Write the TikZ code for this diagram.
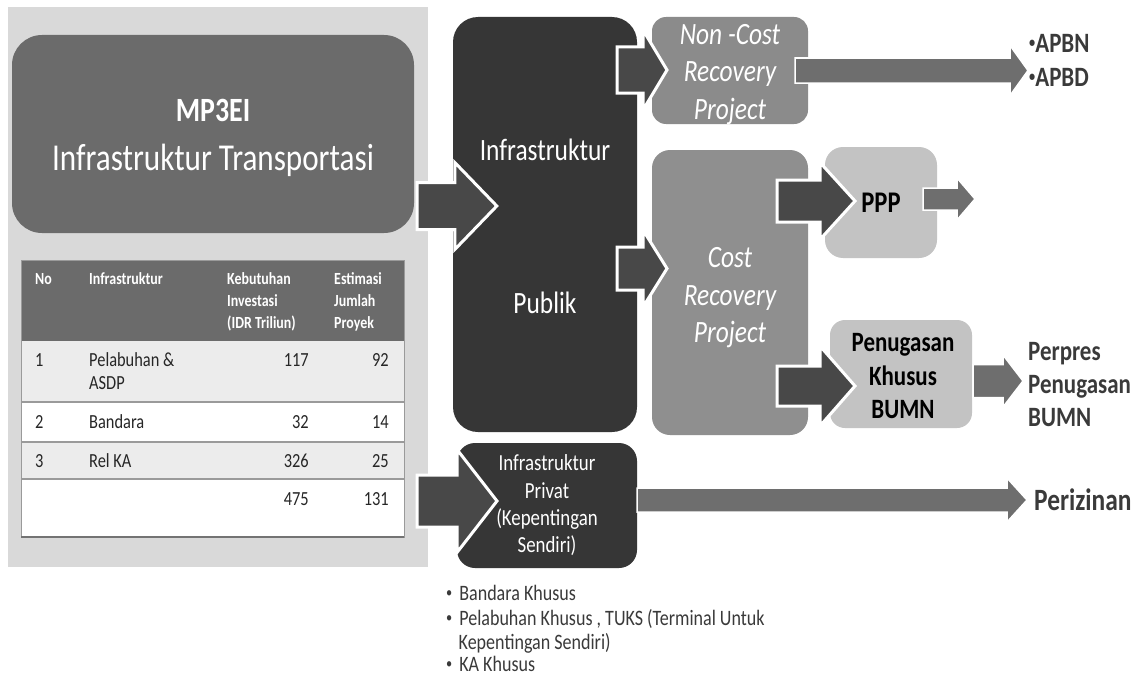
\documentclass[tikz,border=0pt]{standalone}
\usepackage{fontspec}
\setmainfont{Carlito}[FakeStretch=0.82]
\usetikzlibrary{calc}
\definecolor{panel}{HTML}{D9D9D9}
\definecolor{mpgray}{HTML}{6B6B6B}
\definecolor{darkbox}{HTML}{363636}
\definecolor{midbox}{HTML}{8B8B8B}
\definecolor{costbox}{HTML}{8F8F8F}
\definecolor{lightbox}{HTML}{C3C3C3}
\definecolor{arrdark}{HTML}{484848}
\definecolor{arrmid}{HTML}{6E6E6E}
\definecolor{txtdark}{HTML}{3A3A3A}
\definecolor{rowgray}{HTML}{ECECEC}
\definecolor{tline}{HTML}{9A9A9A}
\newcommand\fs[2]{\fontsize{#1}{#2}\selectfont}
\newcommand\smbul[1]{\raisebox{#1}{\fontsize{15}{15}\selectfont •}}
\newcommand\blockarr[6][]{\path[#1] let \p1=(#2), \p2=(#3) in
  (\x1,\y2-#4) -- (\x2-#6,\y2-#4) -- (\x2-#6,\y2-#5) -- (\x2,\y2) --
  (\x2-#6,\y2+#5) -- (\x2-#6,\y2+#4) -- (\x1,\y2+#4) -- cycle;}
\tikzset{
  box/.style={inner sep=0pt, align=center},
  darkarr/.style={fill=arrdark, draw=white, line width=3pt, line join=miter},
  midarr/.style={fill=arrmid, draw=white, line width=1.5pt, line join=miter},
  hdr/.style={anchor=base west, text=white, font=\bfseries\fs{17}{22}, inner sep=0pt},
  cell/.style={anchor=base west, text=black!85, font=\fs{20}{23}, inner sep=0pt},
  num/.style={anchor=base east, text=black!85, font=\fs{20}{23}, inner sep=0pt},
  bul/.style={anchor=base west, text=txtdark, font=\fs{22}{24}, inner sep=0pt},
}
\begin{document}
\begin{tikzpicture}[x=1pt,y=-1pt]
\useasboundingbox (0,0) rectangle (1139,677);
\fill[white] (0,0) rectangle (1139,677);
% left panel
\node[box, fill=panel, minimum width=420pt, minimum height=560pt] (panel) at (218,287) {};
\node[box, fill=mpgray, minimum width=402pt, minimum height=198pt, rounded corners=30pt] (mp) at (213,134) {};
\node[box, text=white, font=\fs{38}{49}] (mptxt) at ($(mp.center)+(0,4)$)
  {{\bfseries\fs{34}{49}MP3EI}\\Infrastruktur Transportasi};
% table
\fill[mpgray] (21,260) rectangle (404,341);
\fill[rowgray] (21,341) rectangle (404,402);
\fill[white] (21,402) rectangle (404,442);
\fill[rowgray] (21,442) rectangle (404,479);
\fill[white] (21,479) rectangle (404,537);
\draw[tline, line width=1.2pt] (21,402) -- (404,402) (21,442) -- (404,442) (21,479) -- (404,479);
\draw[tline, line width=0.8pt] (21,260) rectangle (404,537);
\draw[black!55, line width=1.2pt] (21,537) -- (404,537);
\node[hdr] (h1) at (35,284.5) {No};
\node[hdr] (h2) at (89,284.5) {Infrastruktur};
\node[hdr] (h3a) at (227,284.5) {Kebutuhan};
\node[hdr] (h3b) at (227,306.5) {Investasi};
\node[hdr] (h3c) at (227,328.5) {(IDR Triliun)};
\node[hdr] (h4a) at (334,284.5) {Estimasi};
\node[hdr] (h4b) at (334,306.5) {Jumlah};
\node[hdr] (h4c) at (334,328.5) {Proyek};
\node[cell] (r1a) at (35,366) {1};
\node[cell] (r1b) at (89,366) {Pelabuhan \&};
\node[cell] (r1c) at (89,389) {ASDP};
\node[num] (r1d) at (309,366) {117};
\node[num] (r1e) at (389,366) {92};
\node[cell] (r2a) at (35,428) {2};
\node[cell] (r2b) at (89,428) {Bandara};
\node[num] (r2d) at (309,428) {32};
\node[num] (r2e) at (389,428) {14};
\node[cell] (r3a) at (35,467) {3};
\node[cell] (r3b) at (89,467) {Rel KA};
\node[num] (r3d) at (309,467) {326};
\node[num] (r3e) at (389,467) {25};
\node[num] (r4d) at (309,505) {475};
\node[num] (r4e) at (389,505) {131};
% boxes
\node[box, fill=darkbox, minimum width=184pt, minimum height=415pt, rounded corners=25pt] (pub) at (545,224.5) {};
\node[box, fill=midbox, minimum width=156pt, minimum height=107pt, rounded corners=14pt] (ncr) at (730,70.5) {};
\node[box, fill=costbox, minimum width=156pt, minimum height=285pt, rounded corners=18pt] (cr) at (730,292.5) {};
\node[box, fill=lightbox, minimum width=112pt, minimum height=111pt, rounded corners=18pt] (ppp) at (881,202.5) {};
\node[box, fill=lightbox, minimum width=142pt, minimum height=108pt, rounded corners=15pt] (pkb) at (901,374) {};
\node[box, fill=darkbox, minimum width=180pt, minimum height=125pt, rounded corners=18pt] (priv) at (547,505.5) {};
% arrow end points
\coordinate (a1s) at ($(mp.east)+(3,72)$);   \coordinate (a1t) at ($(pub.west)+(44,-18.5)$);
\coordinate (a2s) at (617,70);   \coordinate (a2t) at (667,70);
\coordinate (a3s) at (617,268.5); \coordinate (a3t) at (667,268.5);
\coordinate (a4s) at (795,70.5); \coordinate (a4t) at (1028,70.5);
\coordinate (a5s) at (777,201);  \coordinate (a5t) at (855,201);
\coordinate (a6s) at (923,199);  \coordinate (a6t) at (975,199);
\coordinate (a7s) at (777,386);  \coordinate (a7t) at (855,386);
\coordinate (a8s) at (973,381);  \coordinate (a8t) at (1023,381);
\coordinate (a9s) at (417,501);  \coordinate (a9t) at (497,501);
\coordinate (a10s) at (priv.east); \coordinate (a10t) at (1027,500);
% arrows
\blockarr[darkarr]{a1s}{a1t}{23.5pt}{43.5pt}{42pt}
\blockarr[darkarr]{a2s}{a2t}{23pt}{40pt}{24pt}
\blockarr[darkarr]{a3s}{a3t}{21.5pt}{38.5pt}{24pt}
\blockarr[midarr]{a4s}{a4t}{12.5pt}{25pt}{18pt}
\blockarr[darkarr]{a5s}{a5t}{21pt}{38.5pt}{35pt}
\blockarr[midarr]{a6s}{a6t}{11pt}{21pt}{18pt}
\blockarr[darkarr]{a7s}{a7t}{20pt}{40pt}{35pt}
\blockarr[midarr]{a8s}{a8t}{16.5pt}{26pt}{20pt}
\blockarr[darkarr]{a9s}{a9t}{26pt}{51.5pt}{40pt}
\blockarr[midarr]{a10s}{a10t}{12pt}{22pt}{20pt}
% box texts
\node[box, text=white, font=\fs{31}{36}] (pubtxt) at ($(pub.center)+(0,2)$) {Infrastruktur\\[117pt]Publik};
\node[box, text=white, font=\itshape\fs{31}{37.5}] (ncrtxt) at ($(ncr.center)+(0,4)$) {Non -Cost\\Recovery\\Project};
\node[box, text=white, font=\itshape\fs{31}{37.5}] (crtxt) at ($(cr.center)+(0,5.5)$) {Cost\\Recovery\\Project};
\node[box, text=white, font=\fs{23}{27.3}] (privtxt) at (priv.center) {Infrastruktur\\Privat\\(Kepentingan\\Sendiri)};
\node[box, text=black, font=\bfseries\fs{30}{32}] (ppptxt) at ($(ppp.center)+(0,0)$) {PPP};
\node[box, text=black, font=\bfseries\fs{28}{33.5}] (pkbtxt) at ($(pkb.center)+(2,2.5)$) {Penugasan\\Khusus\\BUMN};
% right texts
\node[box, anchor=west, align=left, text=txtdark, font=\bfseries\fs{28}{34}] (apbn) at (1029,60) {\smbul{5pt}APBN\\\smbul{5pt}APBD};
\node[box, anchor=west, align=left, text=txtdark, font=\bfseries\fs{28}{33}] (perpres) at (1028,385) {Perpres\\Penugasan\\BUMN};
\node[box, anchor=west, text=txtdark, font=\bfseries\fs{31}{34}] (periz) at (1034,500) {Perizinan};
% bullet list
\node[bul] (b1) at (446,600) {\smbul{2.5pt}\hspace{7pt}Bandara Khusus};
\node[bul] (b2) at (446,625) {\smbul{2.5pt}\hspace{7pt}Pelabuhan Khusus , TUKS (Terminal Untuk};
\node[bul] (b2b) at (458.5,649) {Kepentingan Sendiri)};
\node[bul] (b3) at (446,671) {\smbul{2.5pt}\hspace{7pt}KA Khusus};
\end{tikzpicture}
\end{document}
